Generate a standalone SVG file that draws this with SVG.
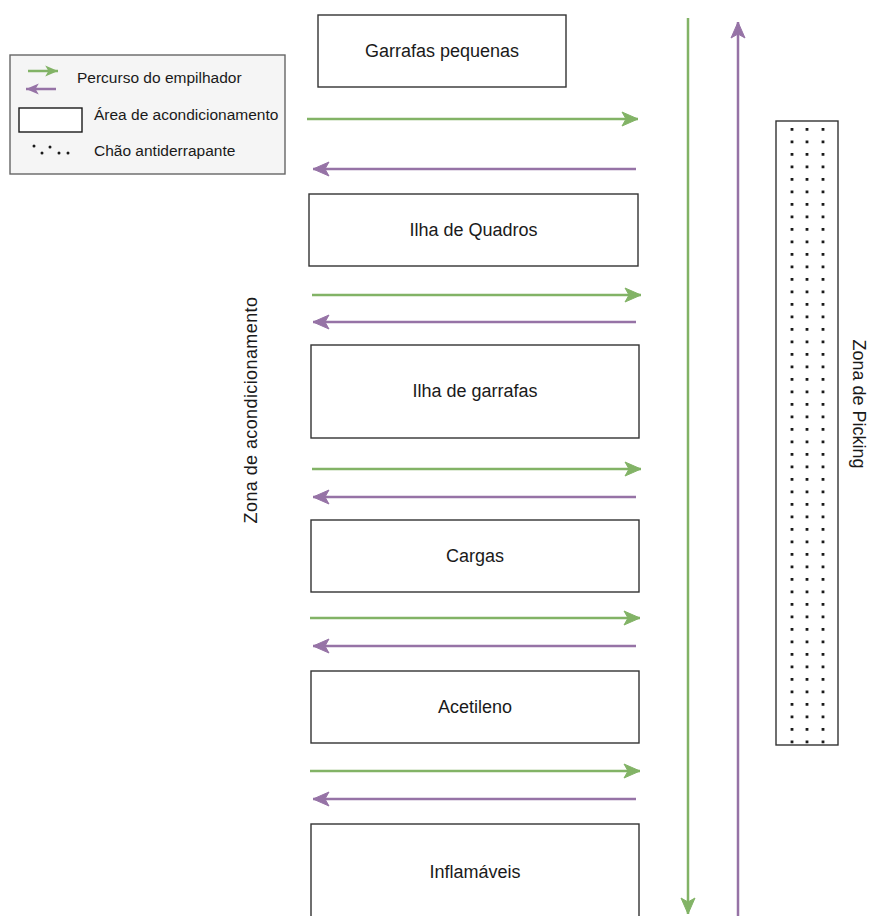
<svg xmlns="http://www.w3.org/2000/svg" width="869" height="916" viewBox="0 0 869 916">
<style>
.box{fill:#ffffff;stroke:#333333;stroke-width:1.4}
.lbl{font-family:"Liberation Sans",Arial,sans-serif;font-size:18px;fill:#1a1a1a;text-anchor:middle}
.leg{font-family:"Liberation Sans",Arial,sans-serif;font-size:15.5px;fill:#1a1a1a}
.g{stroke:#82b366;stroke-width:2.5;fill:none}
.p{stroke:#9673a6;stroke-width:2.5;fill:none}
.dots{stroke:#1a1a1a;stroke-width:2.8;stroke-dasharray:2.8 9.7;fill:none}
</style>
<defs>
<marker id="ag" markerUnits="userSpaceOnUse" markerWidth="20" markerHeight="20" viewBox="0 0 20 20" refX="18" refY="10" orient="auto">
<path d="M2,3 L18,10 L2,17 L6,10 Z" fill="#82b366" stroke="#82b366" stroke-width="1"/>
</marker>
<marker id="ap" markerUnits="userSpaceOnUse" markerWidth="20" markerHeight="20" viewBox="0 0 20 20" refX="18" refY="10" orient="auto">
<path d="M2,3 L18,10 L2,17 L6,10 Z" fill="#9673a6" stroke="#9673a6" stroke-width="1"/>
</marker>
<marker id="agS" markerUnits="userSpaceOnUse" markerWidth="16" markerHeight="16" viewBox="0 0 20 20" refX="18" refY="10" orient="auto">
<path d="M2,3 L18,10 L2,17 L6,10 Z" fill="#82b366"/>
</marker>
<marker id="apS" markerUnits="userSpaceOnUse" markerWidth="16" markerHeight="16" viewBox="0 0 20 20" refX="18" refY="10" orient="auto">
<path d="M2,3 L18,10 L2,17 L6,10 Z" fill="#9673a6"/>
</marker>
</defs>

<g id="legend">
<rect x="10" y="55" width="275" height="119" fill="#f5f5f5" stroke="#666666" stroke-width="1.4"/>
<line class="g" x1="28" y1="71" x2="58" y2="71" stroke-width="2" marker-end="url(#agS)"/>
<line class="p" x1="56" y1="89" x2="26" y2="89" stroke-width="2" marker-end="url(#apS)"/>
<text class="leg" x="77" y="83">Percurso do empilhador</text>
<rect x="19" y="108" width="63" height="24" fill="#ffffff" stroke="#1a1a1a" stroke-width="1.4"/>
<text class="leg" x="94" y="120">Área de acondicionamento</text>
<g fill="#1a1a1a">
<circle cx="34" cy="146" r="1.5"/><circle cx="42" cy="153" r="1.5"/><circle cx="50" cy="147" r="1.5"/><circle cx="59" cy="153" r="1.5"/><circle cx="68" cy="153" r="1.5"/>
</g>
<text class="leg" x="94" y="156">Chão antiderrapante</text>
</g>

<g id="garrafas-pequenas"><rect class="box" x="318" y="15" width="248" height="72"/><text class="lbl" x="442" y="57">Garrafas pequenas</text></g>
<g id="ilha-quadros"><rect class="box" x="309" y="194" width="329" height="72"/><text class="lbl" x="473.5" y="236">Ilha de Quadros</text></g>
<g id="ilha-garrafas"><rect class="box" x="311" y="345" width="328" height="93"/><text class="lbl" x="475" y="397">Ilha de garrafas</text></g>
<g id="cargas"><rect class="box" x="311" y="520" width="328" height="72"/><text class="lbl" x="475" y="562">Cargas</text></g>
<g id="acetileno"><rect class="box" x="311" y="671" width="328" height="72"/><text class="lbl" x="475" y="713">Acetileno</text></g>
<g id="inflamaveis"><rect class="box" x="311" y="824" width="328" height="110"/><text class="lbl" x="475" y="878">Inflamáveis</text></g>

<g id="zona-picking">
<rect x="776" y="121" width="62" height="624" fill="#ffffff" stroke="#333333" stroke-width="1.4"/>
<line class="dots" x1="792" y1="128" x2="792" y2="745"/>
<line class="dots" x1="807" y1="128" x2="807" y2="745"/>
<line class="dots" x1="823" y1="128" x2="823" y2="745"/>
</g>

<g id="labels">
<text class="lbl" transform="translate(257,410) rotate(-90)" letter-spacing="0.4">Zona de acondicionamento</text>
<text class="lbl" transform="translate(853,404) rotate(90)">Zona de Picking</text>
</g>

<g id="connectors">
<line class="g" x1="307" y1="119" x2="638" y2="119" marker-end="url(#ag)"/>
<line class="p" x1="636" y1="169" x2="313" y2="169" marker-end="url(#ap)"/>
<line class="g" x1="312" y1="295" x2="641" y2="295" marker-end="url(#ag)"/>
<line class="p" x1="636" y1="322" x2="313" y2="322" marker-end="url(#ap)"/>
<line class="g" x1="312" y1="469" x2="641" y2="469" marker-end="url(#ag)"/>
<line class="p" x1="636" y1="497" x2="313" y2="497" marker-end="url(#ap)"/>
<line class="g" x1="310" y1="618" x2="640" y2="618" marker-end="url(#ag)"/>
<line class="p" x1="636" y1="646" x2="313" y2="646" marker-end="url(#ap)"/>
<line class="g" x1="310" y1="771" x2="640" y2="771" marker-end="url(#ag)"/>
<line class="p" x1="636" y1="799" x2="313" y2="799" marker-end="url(#ap)"/>
<line class="g" x1="688" y1="18" x2="688" y2="914" marker-end="url(#ag)"/>
<line class="p" x1="738" y1="916" x2="738" y2="22" marker-end="url(#ap)"/>
</g>
</svg>
